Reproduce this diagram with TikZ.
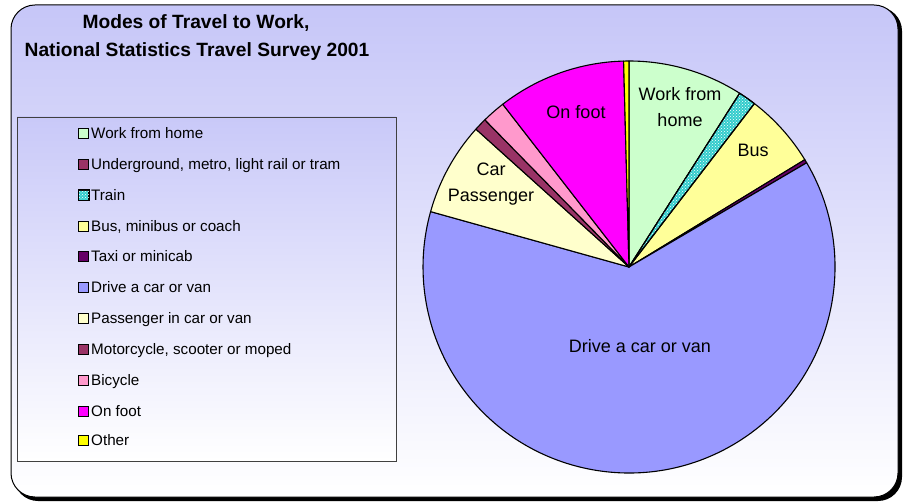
\documentclass[tikz,border=0pt]{standalone}
\usepackage{fontspec}
\setmainfont{Liberation Sans}
\usetikzlibrary{patterns}
\definecolor{cWFH}{RGB}{204,255,204}
\definecolor{cUnder}{RGB}{153,51,102}
\definecolor{cTrain}{RGB}{51,204,204}
\definecolor{cBus}{RGB}{255,255,153}
\definecolor{cTaxi}{RGB}{102,0,102}
\definecolor{cDrive}{RGB}{153,153,255}
\definecolor{cPass}{RGB}{255,255,204}
\definecolor{cMoto}{RGB}{153,51,102}
\definecolor{cBike}{RGB}{255,153,204}
\definecolor{cFoot}{RGB}{255,0,255}
\definecolor{cOther}{RGB}{255,255,0}
\definecolor{bgTop}{RGB}{198,198,248}
\definecolor{bgBot}{RGB}{255,255,255}
\begin{document}
\begin{tikzpicture}[x=1pt,y=-1pt,
  slice/.style={draw=black,line width=1.1pt,line join=round},
  keybox/.style={draw=black,line width=0.8pt,minimum size=10pt,inner sep=0pt},
  keytext/.style={anchor=base west,inner sep=0pt,font=\fontsize{15.2}{17}\selectfont},
  pielabel/.style={align=center,font=\fontsize{18}{26}\selectfont},
  titletext/.style={font=\bfseries\fontsize{19.2}{21}\selectfont}]
\useasboundingbox (0,0) rectangle (904,502);
% frame with shadow
\fill[black,rounded corners=24pt] (14,7) rectangle (902,501);
\shade[top color=bgTop,bottom color=bgBot,rounded corners=24pt,draw=black,line width=1pt] (11,5) rectangle (898,497);
% title
\node[titletext] (t1) at (196,23) {Modes of Travel to Work,};
\node[titletext] (t2) at (197,52) {National Statistics Travel Survey 2001};
% legend box
\shade[top color=bgTop!95!white,bottom color=white,draw=black!75,line width=0.8pt] (17,117) rectangle (396,461);
\foreach \c/\t/\y/\n in {cWFH/Work from home/133/l1,
  cUnder/{Underground, metro, light rail or tram}/164/l2,
  cTrain/Train/195/l3,
  cBus/{Bus, minibus or coach}/226/l4,
  cTaxi/Taxi or minicab/256/l5,
  cDrive/Drive a car or van/287/l6,
  cPass/Passenger in car or van/318/l7,
  cMoto/{Motorcycle, scooter or moped}/349/l8,
  cBike/Bicycle/380/l9,
  cFoot/On foot/411/l10,
  cOther/Other/440/l11}{
  \node[keybox,fill=\c] (\n k) at (83.5,\y) {};
  \node[keytext] (\n) at (91,\y+5.4) {\t};
}
\fill[pattern=crosshatch dots,pattern color=white] (l3k.south west) rectangle (l3k.north east);
\draw[line width=0.8pt] (l3k.south west) rectangle (l3k.north east);
% pie
\coordinate (C) at (629,267);
\def\R{206}
\foreach \a/\b/\c in {-90/-57.5/cWFH, -57.5/-52.5/cTrain, -52.5/-31.4/cBus, -31.4/-30.4/cTaxi,
  -30.4/195.6/cDrive, 195.6/222/cPass, 222/225.6/cMoto, 225.6/232.2/cBike, 232.2/268.5/cFoot, 268.5/270/cOther}{
  \filldraw[slice,fill=\c] (C) -- ++(\a:\R) arc[start angle=\a,end angle=\b,radius=\R] -- cycle;
}
\fill[pattern=crosshatch dots,pattern color=white] (C) -- ++(-57.5:\R) arc[start angle=-57.5,end angle=-52.5,radius=\R] -- cycle;
\draw[slice] (C) -- ++(-57.5:\R) arc[start angle=-57.5,end angle=-52.5,radius=\R] -- cycle;
% pie labels
\node[pielabel] (pw) at (680,107) {Work from\\home};
\node[pielabel] (pb) at (753,150) {Bus};
\node[pielabel] (pf) at (576,112) {On foot};
\node[pielabel] (pp) at (491,184) {Car\\Passenger};
\node[pielabel] (pd) at (640,346) {Drive a car or van};
\end{tikzpicture}
\end{document}
